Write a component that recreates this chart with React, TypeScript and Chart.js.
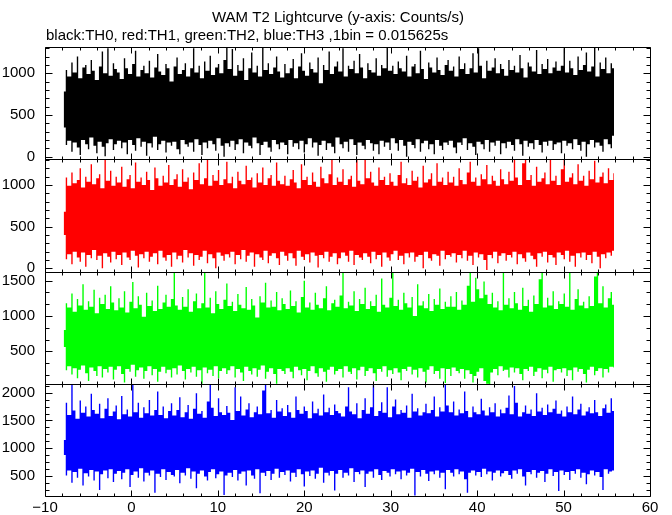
import React, { useEffect, useRef } from 'react';
import { Chart, registerables } from 'chart.js';

Chart.register(...registerables);

const TITLE = 'WAM T2 Lightcurve (y-axis: Counts/s)';
const SUBTITLE = 'black:TH0, red:TH1, green:TH2, blue:TH3 ,1bin = 0.015625s';

// time axis of the light curve (s); each envelope bin summarises 0.32 s of 1/64 s bins
const T_START = -8.0;
const BIN = 0.32;
const X_MIN = -10;
const X_MAX = 60;
const X_TICKS = [-10, 0, 10, 20, 30, 40, 50, 60];

// TH0 (black): highest / lowest rate inside each 0.32 s bin, counts/s
const TH0_HI = [
  780, 1040, 960, 1130, 1010, 1200, 940, 1070, 1100, 990, 1160, 1030, 920, 1080, 1260, 1000, 1300, 970, 1120, 1050,
  1010, 930, 1180, 1060, 990, 1110, 1270, 960, 1040, 1090, 1000, 1150, 950, 1070, 1230, 1020, 980, 1110, 1060, 900,
  1080, 1190, 990, 1040, 1120, 960, 1060, 1300, 1010, 1090, 940, 1140, 1030, 1210, 980, 1070, 1110, 1000, 1160, 1310,
  1050, 1290, 970, 1100, 1030, 1180, 920, 1060, 1250, 1010, 1090, 960, 1310, 1040, 1120, 990, 1070, 1200, 1020, 950,
  1110, 1000, 1060, 1170, 940, 1080, 1240, 1030, 970, 1130, 1050, 1010, 1190, 880, 1100, 1040, 1260, 990, 1080, 1140,
  1020, 1300, 960, 1090, 1050, 1150, 1000, 1230, 1070, 940, 1120, 1040, 1010, 1180, 970, 1100, 1060, 1310, 1030, 1090,
  990, 1140, 1060, 1020, 1210, 960, 1080, 1110, 1000, 1270, 1050, 930, 1130, 1070, 1010, 1190, 1040, 980, 1100, 1160,
  1030, 1080, 960, 1200, 1050, 1120, 990, 1060, 1240, 1010, 1300, 1090, 940, 1150, 1030, 1070, 1180, 1000, 1110, 1050,
  970, 1160, 1040, 1090, 1010, 1220, 1060, 950, 1130, 1080, 1020, 1280, 990, 1110, 1050, 1170, 1000, 1070, 1140, 1030,
  1090, 1300, 1010, 1150, 1060, 980, 1200, 1040, 1100, 1250, 1020, 1080, 1310, 960, 1130, 1050, 1190, 1000, 1120, 1060,
];
const TH0_LO = [
  350, 140, 190, 60, 170, 110, 20, 200, 150, 90, 230, 130, 40, 180, 120, 5, 160, 210, 80, 150,
  190, 100, 170, 30, 200, 140, 70, 220, 120, 180, 10, 160, 110, 240, 80, 150, 190, 50, 170, 130,
  180, 90, 30, 200, 150, 120, 170, 60, 210, 140, 20, 170, 100, 190, 150, 70, 220, 130, 0, 160,
  120, 190, 80, 150, 210, 40, 170, 130, 100, 230, 160, 20, 140, 180, 110, 60, 200, 150, 90, 170,
  140, 30, 200, 120, 160, 90, 190, 50, 150, 220, 110, 170, 10, 140, 190, 80, 160, 120, 40, 230,
  150, 100, 180, 60, 210, 140, 20, 170, 130, 90, 200, 160, 70, 150, 30, 190, 120, 170, 80, 220,
  160, 70, 200, 130, 0, 180, 140, 100, 210, 60, 160, 190, 90, 150, 30, 200, 130, 80, 170, 140,
  190, 110, 40, 170, 140, 220, 80, 160, 120, 20, 180, 150, 90, 200, 60, 170, 130, 190, 30, 160,
  100, 180, 140, 70, 210, 150, 10, 190, 120, 160, 90, 200, 140, 50, 180, 130, 190, 80, 150, 170,
  40, 190, 130, 160, 90, 210, 140, 70, 180, 0, 150, 200, 110, 170, 130, 60, 210, 150, 100, 250,
];

// TH1 (red)
const TH1_HI = [
  680, 1090, 990, 1150, 1020, 1060, 1200, 970, 1100, 1040, 1250, 1010, 1080, 1130, 960, 1300, 1050, 1170, 990, 1100,
  1030, 1220, 980, 1070, 1120, 960, 1270, 1040, 1090, 1000, 1160, 1060, 940, 1210, 1080, 990, 1110, 1030, 1240, 1000,
  1070, 1130, 980, 1190, 1040, 1090, 950, 1150, 1060, 1260, 1010, 1080, 1300, 990, 1120, 1050, 1180, 1000, 1070, 1280,
  1020, 1100, 960, 1160, 1050, 1010, 1230, 1060, 1090, 970, 1140, 1030, 1210, 1000, 1080, 1120, 990, 1270, 1050, 1010,
  1110, 990, 1070, 1180, 1030, 960, 1250, 1060, 1100, 1000, 1150, 1040, 980, 1220, 1080, 1020, 1130, 1300, 1000, 1090,
  1040, 1190, 1000, 1070, 1110, 980, 1300, 1050, 1010, 1300, 1080, 1160, 1030, 990, 1210, 1060, 1100, 1000, 1140, 1040,
  990, 1120, 1280, 1020, 1080, 1000, 1170, 1050, 1100, 970, 1230, 1030, 1070, 1140, 990, 1260, 1040, 1090, 1000, 1160,
  1030, 1100, 990, 1200, 1060, 1010, 1150, 1280, 1040, 1090, 990, 1130, 1070, 1240, 1010, 1110, 1050, 990, 1190, 1070,
  1010, 1160, 1050, 1300, 1090, 1000, 1260, 1300, 1060, 1120, 990, 1220, 1040, 1080, 1150, 1010, 1300, 1050, 1110, 1000,
  1190, 1300, 1040, 1090, 1140, 1010, 1250, 1050, 1110, 990, 1170, 1070, 1290, 1030, 1100, 1150, 1020, 1200, 1060, 1140,
];
const TH1_LO = [
  400, 110, 170, 50, 200, 130, 80, 190, 20, 160, 120, 220, 100, 150, 0, 180, 140, 70, 200, 110,
  160, 40, 190, 130, 100, 210, 150, 10, 170, 120, 200, 80, 140, 180, 50, 210, 130, 90, 160, 20,
  190, 110, 150, 70, 220, 130, 180, 30, 160, 100, 140, 210, 60, 170, 120, 0, 190, 150, 90, 170,
  130, 200, 50, 160, 110, 220, 80, 150, 190, 20, 170, 130, 100, 210, 60, 150, 180, 120, 40, 200,
  150, 90, 180, 120, 30, 210, 140, 100, 170, 70, 190, 150, 10, 160, 120, 200, 80, 140, 180, 50,
  120, 190, 150, 80, 210, 40, 160, 130, 100, 180, 140, 60, 200, 110, 160, 20, 190, 130, 90, 170,
  210, 100, 150, 50, 180, 130, 190, 80, 140, 160, 0, 200, 120, 90, 170, 150, 30, 210, 110, 160,
  140, 180, 70, 160, 120, 210, 90, 150, 40, 190, 130, 170, 100, -20, 160, 120, 200, 60, 150, 180,
  90, 160, 130, 200, 50, 170, 120, 80, 190, 150, 110, 20, 180, 140, 200, 70, 160, 130, 40, 190,
  160, 110, 210, 80, 150, 20, 180, 130, 190, 100, 160, 60, 200, 140, 0, 170, 120, 190, 150, 210,
];

// TH2 (green)
const TH2_HI = [
  800, 1180, 1120, 1320, 1060, 1240, 1150, 1450, 1090, 1210, 1130, 1370, 1040, 1260, 1170, 1300, 1100, 1420, 1190, 1080,
  1250, 1120, 1350, 1050, 1200, 1480, 1110, 1280, 1160, 990, 1330, 1140, 1220, 1070, 1430, 1100, 1190, 1300, 1130, 1240,
  1610, 1150, 1090, 1270, 1130, 1380, 1060, 1210, 1320, 1110, 1180, 1620, 1120, 1260, 1040, 1350, 1170, 1100, 1230, 1460,
  1140, 1200, 1070, 1310, 1160, 1110, 1410, 1090, 1240, 1150, 980, 1280, 1190, 1470, 1120, 1220, 1130, 1340, 1080, 1250,
  1170, 1100, 1360, 1140, 1210, 1050, 1270, 1500, 1120, 1190, 1090, 1330, 1160, 1110, 1250, 1420, 1080, 1180, 1230, 1130,
  1290, 1620, 1110, 1200, 1150, 1350, 1070, 1240, 1170, 1400, 1100, 1210, 1140, 1300, 1060, 1530, 1160, 1120, 1260, 1620,
  1140, 1230, 1090, 1330, 1180, 1120, 1270, 1000, 1450, 1150, 1210, 1110, 1310, 1070, 1240, 1160, 1390, 1100, 1200, 1130,
  1280, 1130, 1340, 1090, 1220, 1160, 1430, 1620, 1200, 1540, 1380, 1250, 1490, 1300, 1170, 1330, 1120, 1210, 1080, 1620,
  1160, 1250, 1110, 1340, 1180, 1090, 1400, 1140, 1230, 1060, 1290, 1170, 1520, 1620, 1120, 1260, 1150, 1350, 1100, 1210,
  1170, 1320, 1130, 1620, 1090, 1240, 1380, 1150, 1200, 1110, 1280, 1140, 1560, 1620, 1180, 1420, 1120, 1250, 1340, 1160,
];
const TH2_LO = [
  560, 230, 290, 170, 260, 120, 240, 300, 190, 80, 270, 220, 150, 290, 130, 250, 200, 280, 100, 240,
  290, 180, 60, 250, 210, 310, 140, 230, 270, 110, 220, 290, 160, 250, 70, 210, 280, 190, 240, 130,
  260, 170, 300, 220, 100, 250, 200, 280, 140, 230, 40, 270, 190, 240, 150, 290, 120, 220, 260, 180,
  230, 290, 130, 250, 200, 80, 280, 220, 170, 260, 140, 240, 300, 110, 210, 260, 180, 40, 250, 220,
  180, 260, 210, 120, 280, 230, 160, 250, 90, 220, 290, 190, 140, 260, 210, 70, 240, 280, 170, 220,
  250, 130, 290, 210, 180, 260, 100, 230, 280, 150, 220, 260, 190, 80, 250, 210, 290, 140, 230, 180,
  260, 200, 90, 250, 220, 280, 170, 240, 130, 260, 210, 60, 240, 290, 180, 220, 110, 260, 50, 250,
  150, 270, 220, 190, 250, 110, 230, 180, 60, 150, 210, 260, 80, 40, 30, 200, 250, 160, 290, 220,
  240, 130, 270, 200, 260, 180, 90, 250, 220, 280, 150, 210, 260, 120, 240, 190, 280, 70, 230, 250,
  200, 260, 150, 230, 90, 270, 210, 250, 180, 60, 240, 280, 160, 220, 260, 130, 250, 200, 280, 270,
];

// TH3 (blue)
const TH3_HI = [
  1150, 1820, 1600, 2150, 1680, 1530, 1860, 1640, 1750, 1570, 1980, 1690, 1620, 1800, 1540, 1710, 1900, 1580, 1660, 1770,
  1520, 1940, 1610, 1700, 1570, 2150, 1650, 1820, 1550, 1740, 1630, 1870, 1590, 1690, 2020, 1600, 1750, 1540, 1670, 1810,
  1590, 1690, 1920, 1560, 1650, 1780, 1530, 1710, 1990, 1620, 1670, 1550, 1840, 2150, 1730, 1580, 1900, 1650, 1600, 1760,
  1640, 1510, 2100, 1670, 1930, 1590, 1700, 1810, 1560, 1650, 1750, 1610, 2040, 2150, 1630, 1690, 1550, 1870, 1660, 1720,
  1580, 1780, 1650, 1550, 1930, 1690, 1620, 1750, 1670, 1540, 1840, 1630, 1710, 1590, 1970, 1650, 1730, 1600, 1790, 1670,
  1630, 1570, 1750, 2100, 1660, 1610, 1810, 1540, 1690, 1900, 1620, 1740, 2150, 1580, 1670, 1830, 1640, 2100, 1560, 1750,
  1880, 1610, 1690, 1640, 1770, 1550, 1980, 1660, 1720, 1590, 1650, 1800, 1630, 1690, 1930, 1570, 1740, 1660, 2150, 1770,
  1650, 1840, 1590, 1700, 1630, 2020, 1670, 1560, 1750, 1650, 1610, 1890, 1680, 1590, 1740, 1650, 1810, 1570, 1700, 1630,
  1730, 1950, 1610, 2120, 1820, 1570, 1650, 1770, 1620, 1700, 1580, 1990, 1660, 1730, 1600, 1790, 1650, 1710, 1860, 1620,
  1680, 1570, 1750, 1650, 1930, 1610, 1700, 1800, 1590, 1660, 1740, 1630, 1870, 1650, 1580, 1720, 1790, 1640, 1900, 1670,
];
const TH3_LO = [
  880, 510, 600, 380, 570, 470, 630, 330, 550, 490, 610, 420, 580, 250, 530, 600, 460, 620, 390, 540,
  590, 440, 560, 620, 300, 520, 580, 470, 640, 400, 560, 510, 600, 200, 540, 480, 620, 430, 570, 520,
  490, 610, 370, 560, 510, 640, 450, 580, 280, 540, 600, 490, 420, 570, 620, 460, 530, 580, 160, 510,
  560, 480, 610, 420, 540, 580, 330, 600, 510, 450, 620, 190, 560, 500, 590, 430, 540, 630, 470, 570,
  520, 600, 400, 560, 480, 620, 530, 310, 580, 500, 600, 450, 540, 650, 380, 560, 510, 590, 240, 540,
  610, 470, 560, 510, 640, 390, 570, 530, 600, 300, 540, 580, 470, 620, 520, 430, 590, 560, 490, 620,
  530, 580, 440, 600, 510, 560, 630, 150, 570, 490, 610, 540, 410, 580, 530, 600, 470, 560, 260, 610,
  560, 490, 620, 530, 580, 440, 200, 560, 600, 510, 570, 480, 630, 530, 580, 420, 560, 600, 490, 550,
  590, 520, 450, 600, 540, 620, 490, 330, 570, 530, 610, 470, 560, 590, 390, 540, 620, 500, 570, 230,
  600, 520, 570, 430, 590, 540, 620, 470, 560, 350, 530, 600, 510, 570, 480, 250, 620, 540, 580, 600,
];

const PANELS = [
  { label: 'TH0', hi: TH0_HI, lo: TH0_LO, color: '#000000', yMin: -28, yMax: 1315, yTicks: [0, 500, 1000], minor: 100 },
  { label: 'TH1', hi: TH1_HI, lo: TH1_LO, color: '#ff0000', yMin: -44, yMax: 1312, yTicks: [0, 500, 1000], minor: 100 },
  { label: 'TH2', hi: TH2_HI, lo: TH2_LO, color: '#00ff00', yMin: 37, yMax: 1623, yTicks: [500, 1000, 1500], minor: 500 / 3 },
  { label: 'TH3', hi: TH3_HI, lo: TH3_LO, color: '#0000ff', yMin: 140, yMax: 2157, yTicks: [500, 1000, 1500, 2000], minor: 125 },
];

const W = 672;
const H = 515;
const PLOT_LEFT = 45;
const PLOT_RIGHT = 650;
const PANEL_EDGES = [47, 159, 272, 384, 496];
const FONT = "'Liberation Sans', Arial, Helvetica, sans-serif";

const framePlugin = {
  id: 'pgFrame',
  afterDatasetsDraw(chart: any, _args: any, opts: any) {
    const { ctx, chartArea: a, scales } = chart;
    const xs = scales.x;
    const ys = scales.y;
    const L = Math.round(a.left) + 0.5;
    const R = Math.round(a.right) + 0.5;
    const T = Math.round(a.top) + 0.5;
    const B = Math.round(a.bottom) + 0.5;
    ctx.save();
    ctx.strokeStyle = '#000';
    ctx.lineWidth = 1;
    ctx.beginPath();
    ctx.rect(L, T, R - L, B - T);
    for (let v = X_MIN; v <= X_MAX; v += 2) {
      const px = Math.round(xs.getPixelForValue(v)) + 0.5;
      const len = v % 10 === 0 ? 6 : 3;
      ctx.moveTo(px, B);
      ctx.lineTo(px, B - len);
      ctx.moveTo(px, T);
      ctx.lineTo(px, T + len);
    }
    const step = opts.minor;
    const k0 = Math.ceil(ys.min / step - 1e-9);
    const k1 = Math.floor(ys.max / step + 1e-9);
    for (let k = k0; k <= k1; k++) {
      const v = k * step;
      const major = Math.abs(v / 500 - Math.round(v / 500)) < 1e-6;
      const py = Math.round(ys.getPixelForValue(v)) + 0.5;
      const len = major ? 7 : 4;
      ctx.moveTo(L, py);
      ctx.lineTo(L + len, py);
      ctx.moveTo(R, py);
      ctx.lineTo(R - len, py);
    }
    ctx.stroke();
    ctx.restore();
  },
};

const titlePlugin = {
  id: 'pgTitle',
  afterDraw(chart: any) {
    const { ctx } = chart;
    ctx.save();
    ctx.fillStyle = '#000';
    ctx.font = `15px ${FONT}`;
    ctx.textBaseline = 'alphabetic';
    ctx.textAlign = 'center';
    ctx.fillText(TITLE, W / 2 + 2, 22);
    ctx.textAlign = 'left';
    ctx.fillText(SUBTITLE, PLOT_LEFT + 1, 40);
    ctx.restore();
  },
};

// Upper and lower outlines of the light-curve band: the value of each bin,
// and between two bins the part common to both neighbours.
function outline(vals: number[], pick: (a: number, b: number) => number) {
  const pts = [] as { x: number; y: number }[];
  for (let i = 0; i < vals.length; i++) {
    pts.push({ x: T_START + (i + 0.5) * BIN, y: vals[i] });
    if (i + 1 < vals.length) {
      pts.push({ x: T_START + (i + 1) * BIN, y: pick(vals[i], vals[i + 1]) });
    }
  }
  return pts;
}

function makeChart(canvas: HTMLCanvasElement, k: number) {
  const p = PANELS[k];
  const isLast = k === PANELS.length - 1;
  const n = Math.min(p.hi.length, p.lo.length);
  const lineStyle = {
    borderColor: 'rgba(0,0,0,0)',
    borderWidth: 0,
    pointRadius: 0,
    stepped: 'middle',
    tension: 0,
  };
  return new Chart(canvas, {
    type: 'line',
    data: {
      datasets: [
        {
          label: p.label,
          data: outline(p.hi.slice(0, n), Math.min),
          backgroundColor: p.color,
          fill: '+1',
          ...lineStyle,
        } as any,
        {
          label: p.label + ' lower',
          data: outline(p.lo.slice(0, n), Math.max),
          backgroundColor: p.color,
          fill: false,
          ...lineStyle,
        } as any,
      ],
    },
    options: {
      responsive: false,
      maintainAspectRatio: false,
      animation: false,
      devicePixelRatio: 1,
      events: [],
      layout: {
        padding: {
          left: 0,
          right: W - PLOT_RIGHT,
          top: PANEL_EDGES[k],
          bottom: isLast ? 0 : H - PANEL_EDGES[k + 1],
        },
      },
      scales: {
        x: {
          type: 'linear',
          min: X_MIN,
          max: X_MAX,
          offset: false,
          display: isLast,
          grid: { display: false, drawTicks: false },
          border: { display: false },
          ticks: {
            color: '#000',
            font: { family: FONT, size: 15 },
            padding: 3,
            maxRotation: 0,
            autoSkip: false,
            callback: (v: any) => (v < 0 ? '\u2212' + Math.abs(v) : String(v)),
          },
          afterBuildTicks: (s: any) => {
            s.ticks = X_TICKS.map((v) => ({ value: v }));
          },
          afterFit: (s: any) => {
            s.height = isLast ? H - PANEL_EDGES[4] : 0;
            s.paddingLeft = 0;
            s.paddingRight = 0;
          },
        },
        y: {
          type: 'linear',
          min: p.yMin,
          max: p.yMax,
          grid: { display: false, drawTicks: false },
          border: { display: false },
          ticks: {
            color: '#000',
            font: { family: FONT, size: 15 },
            padding: 10,
            callback: (v: any) => String(v),
          },
          afterBuildTicks: (s: any) => {
            s.ticks = p.yTicks.map((v) => ({ value: v }));
          },
          afterFit: (s: any) => {
            s.width = PLOT_LEFT;
            s.paddingTop = 0;
            s.paddingBottom = 0;
          },
        },
      },
      plugins: {
        legend: { display: false },
        tooltip: { enabled: false },
        title: { display: false },
        filler: { propagate: false },
        pgFrame: { minor: p.minor },
      } as any,
    },
    plugins: k === 0 ? [framePlugin, titlePlugin] : [framePlugin],
  } as any);
}

export default function App() {
  const refs = [
    useRef<HTMLCanvasElement>(null),
    useRef<HTMLCanvasElement>(null),
    useRef<HTMLCanvasElement>(null),
    useRef<HTMLCanvasElement>(null),
  ];
  useEffect(() => {
    const charts = refs.map((r, k) => makeChart(r.current as HTMLCanvasElement, k));
    return () => charts.forEach((c) => c.destroy());
  }, []);
  return (
    <div style={{ position: 'fixed', left: 0, top: 0, width: W, height: H, background: '#fff' }}>
      {refs.map((r, k) => (
        <canvas
          key={k}
          ref={r}
          width={W}
          height={H}
          style={{ position: 'absolute', left: 0, top: 0, width: W, height: H }}
        />
      ))}
    </div>
  );
}
